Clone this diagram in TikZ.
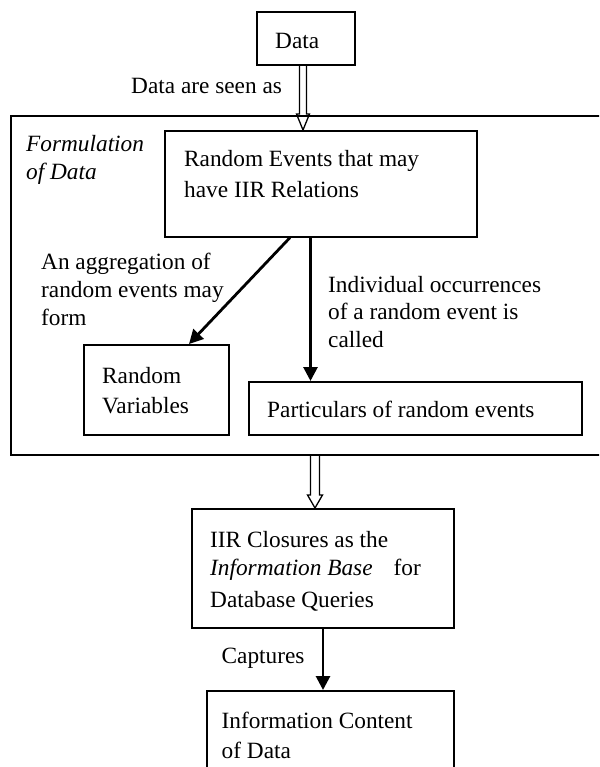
\documentclass[tikz,border=0pt]{standalone}
\usepackage{fontspec}
\setmainfont{Liberation Serif}
\usetikzlibrary{arrows.meta,calc}
\begin{document}
\begin{tikzpicture}[x=1pt,y=-1pt,
  box/.style={draw,line width=1.6pt,rectangle,inner sep=0pt,anchor=north west},
  txt/.style={inner sep=0pt,anchor=base west,align=left,font=\fontsize{23.3}{#1}\selectfont},
  txt/.default=28,
  arr/.style={line width=2.8pt,-{Triangle[length=14pt,width=14pt]}},
  hollow/.style={draw,line width=1.3pt,line join=miter}
]
\useasboundingbox (0,0) rectangle (599,767);
\clip (0,0) rectangle (599,767);

% boxes
\node[box,minimum width=98,minimum height=53] (data) at (256,11) {};
\node[box,minimum width=600,minimum height=339] (frame) at (10,115) {};
\node[box,minimum width=312,minimum height=106] (re) at (164,130) {};
\node[box,minimum width=145,minimum height=90] (rv) at (83,344) {};
\node[box,minimum width=333,minimum height=53] (part) at (248,381) {};
\node[box,minimum width=262,minimum height=119] (iir) at (191,508) {};
\node[box,minimum width=247,minimum height=100] (info) at (206,690) {};

% x positions of connectors
\coordinate (xa) at (303,0);
\coordinate (xb) at (290,0);
\coordinate (xc) at (189,0);
\coordinate (xd) at (310.5,0);
\coordinate (xe) at (315,0);
\coordinate (xf) at (323,0);

% hollow arrow Data -> Random Events
\coordinate (h1s) at (data.south -| xa);
\coordinate (h1e) at (re.north -| xa);
\draw[hollow] ($(h1s)+(-3.5,0)$) -- ($(h1e)+(-3.5,-16)$) -- ($(h1e)+(-6.5,-16)$) -- (h1e)
  -- ($(h1e)+(6.5,-16)$) -- ($(h1e)+(3.5,-16)$) -- ($(h1s)+(3.5,0)$);

% hollow arrow frame -> IIR closures
\coordinate (h2s) at (frame.south -| xe);
\coordinate (h2e) at (iir.north -| xe);
\draw[hollow] ($(h2s)+(-4.5,0)$) -- ($(h2e)+(-4.5,-13)$) -- ($(h2e)+(-7.5,-13)$) -- (h2e)
  -- ($(h2e)+(7.5,-13)$) -- ($(h2e)+(4.5,-13)$) -- ($(h2s)+(4.5,0)$);

% black arrows
\draw[arr] (re.south -| xb) -- (rv.north -| xc);
\draw[arr] (re.south -| xd) -- (part.north -| xd);
\draw[arr] (iir.south -| xf) -- (info.north -| xf);

% texts (base anchor = baseline of the last line)
\node[txt] (tdata) at (275,49) {Data};
\node[txt] (tseen) at (131,94) {Data are seen as};
\node[txt,font=\fontsize{23.3}{28}\selectfont\itshape] (tform) at (26,180) {Formulation\\of Data};
\node[txt=31] (tre) at (184,197) {Random Events that may\\have IIR Relations};
\node[txt=28] (tagg) at (41,325) {An aggregation of\\random events may\\form};
\node[txt=27.5] (tind) at (328,347) {Individual occurrences\\of a random event is\\called};
\node[txt=30] (trv) at (102,413) {Random\\Variables};
\node[txt] (tpart) at (267,417) {Particulars of random events};
\node[txt=28] (tiir) at (210,607) {IIR Closures as the\\\textit{Information Base}\hspace{21pt}for\\[4pt]Database Queries};
\node[txt] (tcap) at (221.5,663) {Captures};
\node[txt=30] (tinfo) at (221.5,758) {Information Content\\of Data};
\end{tikzpicture}
\end{document}
